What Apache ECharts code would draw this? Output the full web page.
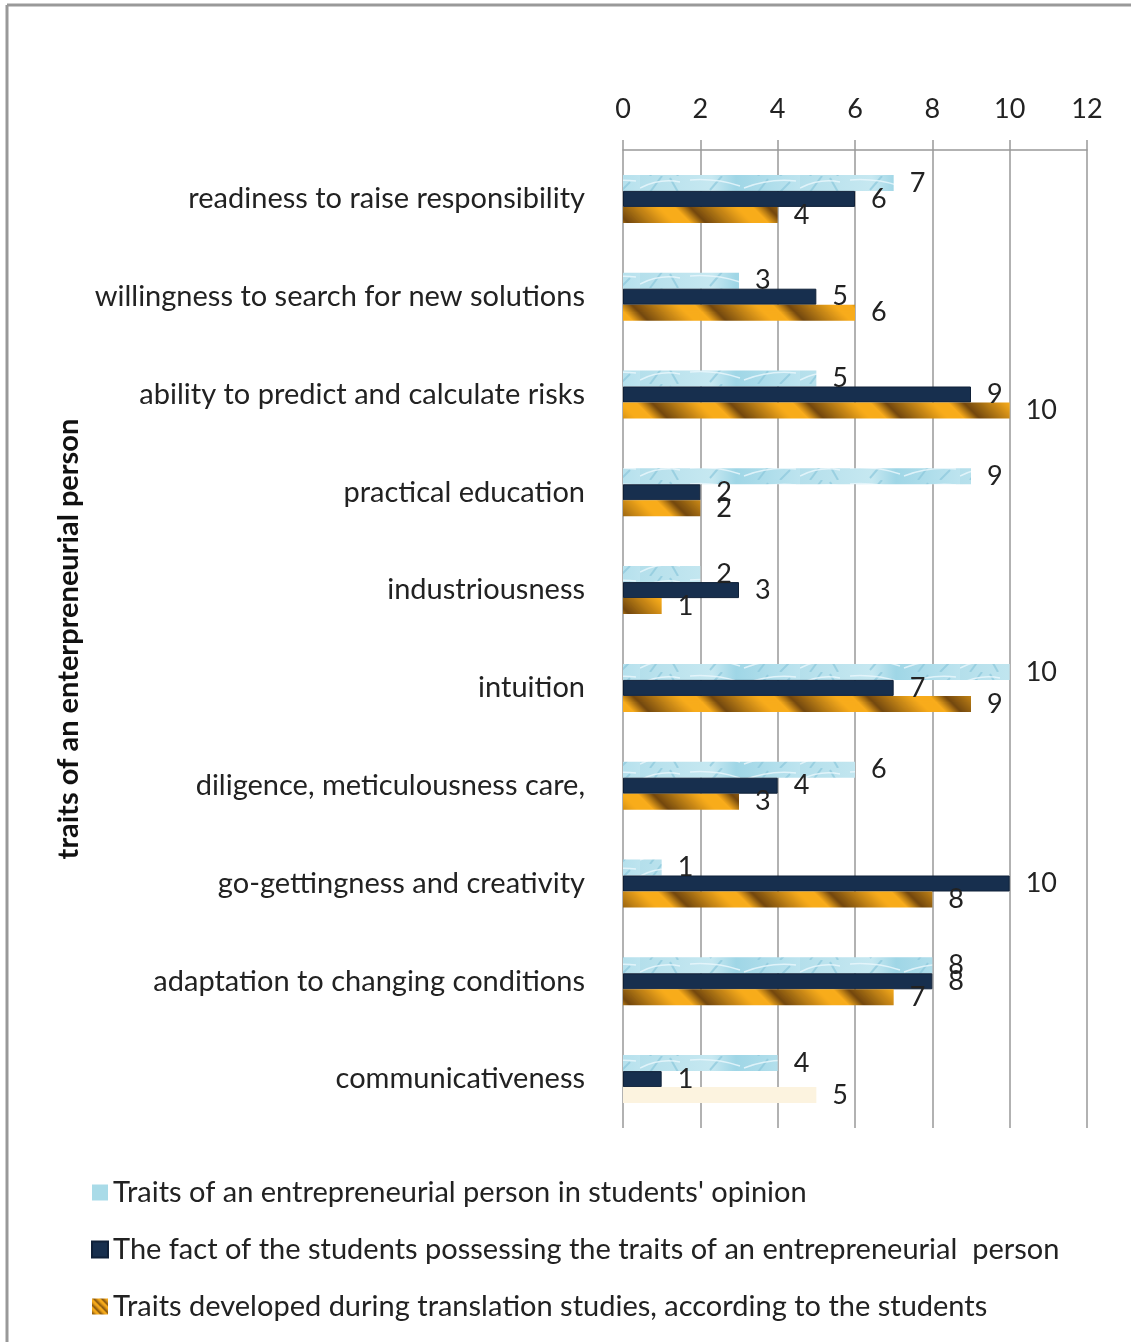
<!DOCTYPE html>
<html>
<head>
<meta charset="utf-8">
<script src="https://cdn.jsdelivr.net/npm/echarts@6/dist/echarts.min.js"></script>
<style>
  html, body { margin: 0; padding: 0; background: #fff; }
  #main { width: 1131px; height: 1342px; }
</style>
</head>
<body>
<div id="main"></div>
<script>
// categories, top to bottom
var traits = [
  "readiness to raise responsibility",
  "willingness to search for new solutions",
  "ability to predict and calculate risks",
  "practical education",
  "industriousness",
  "intuition",
  "diligence, meticulousness care,",
  "go-gettingness and creativity",
  "adaptation to changing conditions",
  "communicativeness"
];
var opinionValues = [7, 3, 5, 9, 2, 10, 6, 1, 8, 4];
var possessValues = [6, 5, 9, 2, 3, 7, 4, 10, 8, 1];
var developedValues = [4, 6, 10, 2, 1, 9, 3, 8, 7, 5];
var xTicks = [0, 2, 4, 6, 8, 10, 12];

var seriesNames = [
  "Traits of an entrepreneurial person in students' opinion",
  "The fact of the students possessing the traits of an entrepreneurial  person",
  "Traits developed during translation studies, according to the students"
];

var FONT = "Lato";

// orange diagonal stripe texture
function makeStripes(period) {
  var c = document.createElement("canvas");
  c.width = period; c.height = period;
  var ctx = c.getContext("2d");
  function mix(a, b, t) { return Math.round(a + (b - a) * t); }
  for (var d = 0; d < period; d++) {
    var t = d / period;
    var k = t < 0.2 ? t / 0.2 : Math.max(0, 1 - (t - 0.2) / 0.6);
    k = Math.pow(k, 1.1);
    var r = mix(248, 115, k), g = mix(172, 72, k), b = mix(28, 15, k);
    ctx.strokeStyle = "rgb(" + r + "," + g + "," + b + ")";
    ctx.lineWidth = 1.6;
    [-period, 0].forEach(function (off) {
      ctx.beginPath();
      ctx.moveTo(d + off, 0);
      ctx.lineTo(d + off + period, period);
      ctx.stroke();
    });
  }
  return c;
}

// light blue marbled texture
function makeMarble() {
  var c = document.createElement("canvas");
  c.width = 160; c.height = 16;
  var ctx = c.getContext("2d");
  var g = ctx.createLinearGradient(0, 0, 160, 0);
  g.addColorStop(0, "#b4dfeb");
  g.addColorStop(0.45, "#c6e8f1");
  g.addColorStop(0.6, "#9fd6e6");
  g.addColorStop(1, "#bde4ef");
  ctx.fillStyle = g;
  ctx.fillRect(0, 0, 160, 16);
  ctx.strokeStyle = "rgba(140,200,220,0.7)";
  ctx.lineWidth = 2;
  [[10, 16, 22, 0], [38, 16, 30, 2], [70, 14, 82, 0], [118, 16, 128, 3], [140, 16, 150, 6]].forEach(function (s) {
    ctx.beginPath(); ctx.moveTo(s[0], s[1]); ctx.lineTo(s[2], s[3]); ctx.stroke();
  });
  ctx.strokeStyle = "rgba(235,248,252,0.8)";
  ctx.lineWidth = 1.5;
  [[0, 12, 40, 6], [50, 4, 100, 10], [104, 12, 156, 5]].forEach(function (s) {
    ctx.beginPath(); ctx.moveTo(s[0], s[1]); ctx.quadraticCurveTo((s[0] + s[2]) / 2, 2, s[2], s[3]); ctx.stroke();
  });
  return c;
}

var stripeFill = { image: makeStripes(78), repeat: "repeat" };
var marbleFill = { image: makeMarble(), repeat: "repeat" };
var legendStripe = { image: makeStripes(8), repeat: "repeat" };

var labelCfg = {
  show: true,
  position: "right",
  distance: 16,
  fontFamily: FONT,
  fontSize: 27,
  color: "#222"
};

var chart = echarts.init(document.getElementById("main"));
chart.setOption({
  backgroundColor: "#fff",
  animation: false,
  textStyle: { fontFamily: FONT },
  graphic: [
    { type: "line", shape: { x1: 7, y1: 5, x2: 1131, y2: 5 }, style: { stroke: "#999", lineWidth: 3 } },
    { type: "line", shape: { x1: 7, y1: 5, x2: 7, y2: 1342 }, style: { stroke: "#999", lineWidth: 3 } }
  ],
  grid: { left: 623, right: 44, top: 150, bottom: 214 },
  legend: {
    orient: "vertical",
    left: 86,
    top: 1173,
    itemWidth: 16,
    itemHeight: 16,
    itemGap: 28,
    icon: "rect",
    textStyle: { fontFamily: FONT, fontSize: 29, color: "#222" },
    data: [
      { name: seriesNames[0], itemStyle: { color: "#a9dbe8" } },
      { name: seriesNames[1] },
      { name: seriesNames[2], itemStyle: { color: legendStripe } }
    ]
  },
  xAxis: {
    type: "value",
    position: "top",
    min: xTicks[0],
    max: xTicks[xTicks.length - 1],
    interval: 2,
    axisLine: { show: true, lineStyle: { color: "#999", width: 1.5 } },
    axisTick: { show: true, length: 10, lineStyle: { color: "#999", width: 1.5 } },
    splitLine: { show: true, lineStyle: { color: "#999", width: 1.5 } },
    axisLabel: { fontFamily: FONT, fontSize: 27, color: "#222", margin: 27 }
  },
  yAxis: {
    type: "category",
    inverse: true,
    data: traits,
    axisLine: { show: false },
    axisTick: { show: false },
    axisLabel: { fontFamily: FONT, fontSize: 29, color: "#222", margin: 38 },
    name: "traits of an enterpreneurial person",
    nameLocation: "middle",
    nameGap: 540,
    nameRotate: 90,
    nameTextStyle: { fontFamily: FONT, fontSize: 29, color: "#111", fontWeight: "bold" }
  },
  series: [
    {
      name: seriesNames[0],
      type: "bar",
      barWidth: 16,
      barGap: "0%",
      data: opinionValues,
      itemStyle: { color: marbleFill },
      label: labelCfg
    },
    {
      name: seriesNames[1],
      type: "bar",
      barWidth: 16,
      barGap: "0%",
      data: possessValues,
      itemStyle: { color: "#172f4e", borderColor: "#0f2038", borderWidth: 1 },
      label: labelCfg
    },
    {
      name: seriesNames[2],
      type: "bar",
      barWidth: 16,
      barGap: "0%",
      data: developedValues.map(function (v, i) {
        // the last bar is drawn pale in the original
        return i === developedValues.length - 1
          ? { value: v, itemStyle: { color: "#fcf3df" } }
          : v;
      }),
      itemStyle: { color: stripeFill },
      label: labelCfg
    }
  ]
});
</script>
</body>
</html>
